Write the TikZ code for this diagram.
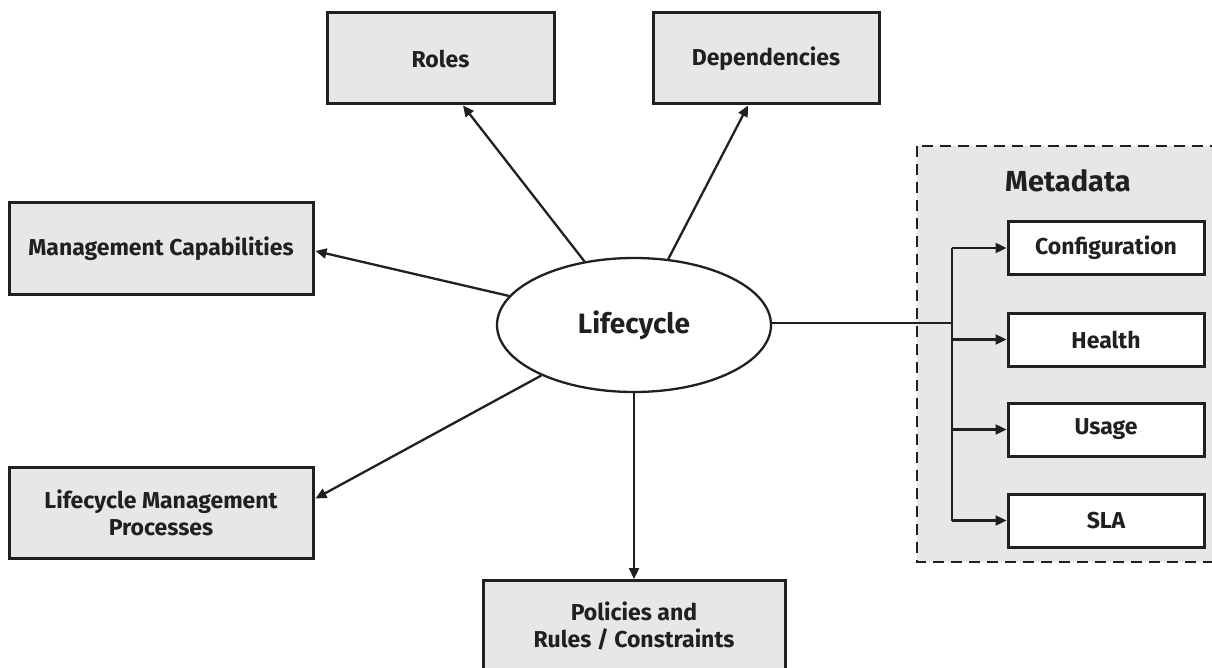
\documentclass[tikz,border=0pt]{standalone}
\usepackage{fontspec}
\setmainfont{Fira Sans}
\usetikzlibrary{shapes.geometric,arrows.meta}
\definecolor{ink}{HTML}{231F20}
\definecolor{panel}{HTML}{E6E7E8}
\begin{document}
\begin{tikzpicture}[x=1pt,y=-1pt,
  graybox/.style={draw=ink,line width=3pt,fill=panel,inner sep=0pt,align=center,
     font=\fontsize{23}{27}\selectfont\bfseries,text=ink},
  whitebox/.style={draw=ink,line width=3pt,fill=white,inner sep=0pt,
     minimum width=196pt,minimum height=53pt,font=\fontsize{23}{27}\selectfont\bfseries,text=ink},
  arr/.style={draw=ink,line width=2.3pt,-{Triangle[length=11pt,width=10pt]}},
  plain/.style={draw=ink,line width=2.3pt}]
\useasboundingbox (0,0) rectangle (1212,668);

% metadata panel
\draw[draw=ink,line width=2.5pt,dash pattern=on 11pt off 7pt,fill=panel] (917,146) rectangle (1220,562);
\node[font=\fontsize{29}{32}\selectfont\bfseries,text=ink] (mdt) at (1068,181) {Metadata};

% outer boxes
\node[graybox,minimum width=227pt,minimum height=91pt] (roles) at (440.5,58.5) {Roles};
\node[graybox,minimum width=226pt,minimum height=91pt] (deps) at (766,58.5) {Dependencies};
\node[graybox,minimum width=304pt,minimum height=91pt] (mc) at (161,248.5) {Management Capabilities};
\node[graybox,minimum width=304pt,minimum height=91pt] (lmp) at (161,512.5) {Lifecycle Management\\Processes};
\node[graybox,minimum width=302pt,minimum height=91pt] (pol) at (634,626) {Policies and\\Rules / Constraints};

% central ellipse
\node[ellipse,draw=ink,line width=2.3pt,fill=white,minimum width=274pt,minimum height=134pt,inner sep=0pt,
  font=\fontsize{28}{32}\selectfont\bfseries,text=ink] (ell) at (634,325) {Lifecycle};

% metadata items
\node[whitebox] (cfg) at (1106,248) {Configuration};
\node[whitebox] (hlt) at (1106,339.5) {Health};
\node[whitebox] (use) at (1106,429.5) {Usage};
\node[whitebox] (sla) at (1106,520.5) {SLA};

% spokes
\draw[arr] (ell) -- ([xshift=22.5pt]roles.south);
\draw[arr] (ell) -- ([xshift=-18pt]deps.south);
\draw[arr] (ell) -- ([yshift=-2.5pt,xshift=1pt]mc.east);
\draw[arr] (ell) -- ([yshift=14pt,xshift=1pt]lmp.east);
\draw[arr] (ell.south) -- (pol.north);

% branch into metadata
\coordinate (jn) at (952,323);
\draw[plain] (ell.east |- jn) -- (jn);
\draw[plain] (cfg.west -| jn) -- (sla.west -| jn);
\draw[arr] (cfg.west -| jn) -- (cfg.west);
\draw[arr] (hlt.west -| jn) -- (hlt.west);
\draw[arr] (use.west -| jn) -- (use.west);
\draw[arr] (sla.west -| jn) -- (sla.west);
\end{tikzpicture}
\end{document}
